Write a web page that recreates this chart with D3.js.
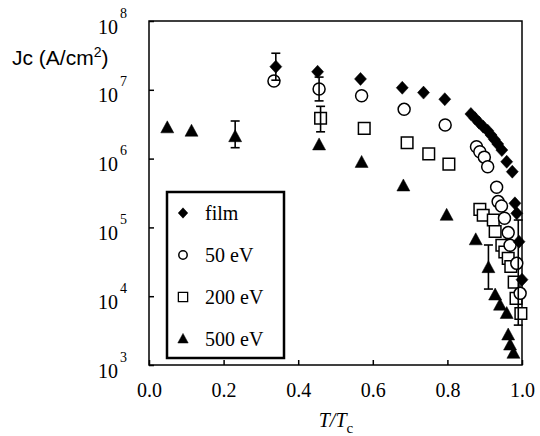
<!DOCTYPE html>
<html>
<head>
<meta charset="utf-8">
<script src="https://cdn.jsdelivr.net/npm/d3@7"></script>
<style>
  body { margin: 0; background: #fff; }
  svg { display: block; }
</style>
</head>
<body>
<div id="chart"></div>
<script>
// Data: T/Tc and Jc (A/cm2)
var tFilm = [0.34, 0.452, 0.567, 0.679, 0.736, 0.793, 0.863, 0.874, 0.885, 0.896, 0.908,
  0.917, 0.926, 0.935, 0.946, 0.959, 0.974, 0.981, 0.986, 0.992, 1.0];
var jFilm = [2.17e7, 1.83e7, 1.44e7, 1.07e7, 9.1e6, 7.3e6, 4.45e6, 3.86e6, 3.33e6, 2.91e6, 2.55e6,
  2.2e6, 1.9e6, 1.63e6, 1.33e6, 9.0e5, 6.45e5, 2.24e5, 1.6e5, 6.2e4, 1.74e4];

var t50 = [0.335, 0.456, 0.570, 0.684, 0.794, 0.878, 0.887, 0.899, 0.908, 0.932, 0.936,
  0.945, 0.953, 0.963, 0.968, 0.986, 0.995];
var j50 = [1.34e7, 1.03e7, 8.2e6, 5.2e6, 3.08e6, 1.49e6, 1.26e6, 1.05e6, 7.6e5, 3.83e5, 2.37e5,
  2.05e5, 1.36e5, 8.4e4, 5.5e4, 3.0e4, 1.1e4];

var t200 = [0.46, 0.577, 0.692, 0.75, 0.804, 0.887, 0.896, 0.923, 0.928, 0.946, 0.954,
  0.963, 0.97, 0.979, 0.984, 0.997];
var j200 = [3.86e6, 2.75e6, 1.7e6, 1.17e6, 8.3e5, 1.83e5, 1.5e5, 1.28e5, 8.7e4, 5.5e4, 4.4e4,
  3.55e4, 2.7e4, 1.6e4, 9.3e3, 5.6e3];

var t500 = [0.049, 0.114, 0.231, 0.456, 0.570, 0.682, 0.798, 0.876, 0.91, 0.928, 0.941,
  0.959, 0.963, 0.968, 0.977];
var j500 = [2.8e6, 2.5e6, 2.08e6, 1.58e6, 8.8e5, 4.0e5, 1.5e5, 6.6e4, 2.6e4, 1.04e4, 7.4e3,
  5.6e3, 2.73e3, 1.95e3, 1.48e3];

// Error bars
var errT = [0.34, 0.456, 0.46, 0.231, 0.91, 0.99];
var errLow = [1.38e7, 6.9e6, 2.45e6, 1.44e6, 1.27e4, 3.8e3];
var errHigh = [3.4e7, 1.53e7, 5.75e6, 3.52e6, 5.55e4, 1.28e5];

var xTicks = [0, 0.2, 0.4, 0.6, 0.8, 1.0];
var yTicks = [1e3, 1e4, 1e5, 1e6, 1e7, 1e8];
var seriesNames = ["film", "50 eV", "200 eV", "500 eV"];

// SVG area
var svgWidth = 540;
var svgHeight = 436;
var margin = { top: 21, right: 18, bottom: 71, left: 149 };
var chartWidth = svgWidth - margin.left - margin.right;
var chartHeight = svgHeight - margin.top - margin.bottom;

var serif = "'Liberation Serif', 'Times New Roman', serif";

var svg = d3.select("#chart")
  .append("svg")
  .attr("width", svgWidth)
  .attr("height", svgHeight);

var chartGroup = svg.append("g")
  .attr("transform", `translate(${margin.left}, ${margin.top})`);

var xScale = d3.scaleLinear().domain([0, 1]).range([0, chartWidth]);
var yScale = d3.scaleLog().domain([1e3, 1e8]).range([chartHeight, 0]);

// Axes, ticks pointing inward
var bottomAxis = d3.axisBottom(xScale)
  .tickValues(xTicks)
  .tickSizeInner(-5)
  .tickSizeOuter(0)
  .tickPadding(18)
  .tickFormat(d3.format(".1f"));

var leftAxis = d3.axisLeft(yScale)
  .tickValues(yTicks)
  .tickSizeInner(-5)
  .tickSizeOuter(0)
  .tickFormat("");

var xAxisG = chartGroup.append("g")
  .attr("transform", `translate(0, ${chartHeight})`)
  .call(bottomAxis);
xAxisG.selectAll("text")
  .attr("font-family", serif)
  .attr("font-size", 20)
  .attr("fill", "#000");

var yAxisG = chartGroup.append("g").call(leftAxis);
yAxisG.selectAll(".tick text").remove();

// 10^n labels, one text per tick with a raised exponent
var yLab = yAxisG.selectAll(".tick")
  .append("text")
  .attr("font-family", serif)
  .attr("fill", "#000")
  .attr("x", -51)
  .attr("y", 12)
  .attr("text-anchor", "start")
  .attr("font-size", 20);
yLab.append("tspan").text("10");
yLab.append("tspan")
  .attr("dx", 2)
  .attr("dy", -16)
  .attr("font-size", 14)
  .text(d => Math.round(Math.log10(d)));

chartGroup.selectAll(".domain").remove();
chartGroup.selectAll(".tick line").attr("stroke", "#000").attr("stroke-width", 1.5);

// Frame
chartGroup.append("rect")
  .attr("width", chartWidth)
  .attr("height", chartHeight)
  .attr("fill", "none")
  .attr("stroke", "#000")
  .attr("stroke-width", 1.5);

// Marker shapes
function markerPath(kind, s) {
  if (kind === 0) return `M0,${-6.5 * s}L${6 * s},0L0,${6.5 * s}L${-6 * s},0Z`;
  if (kind === 2) return `M${-5.8 * s},${-5.8 * s}H${5.8 * s}V${5.8 * s}H${-5.8 * s}Z`;
  if (kind === 3) return `M0,${-7 * s}L${6.5 * s},${5 * s}L${-6.5 * s},${5 * s}Z`;
  return null;
}

function drawSeries(ts, js, kind) {
  var pts = ts.map((t, i) => ({ t: t, j: js[i] }));
  var g = chartGroup.append("g");
  if (kind === 1) {
    g.selectAll("circle")
      .data(pts)
      .enter()
      .append("circle")
      .attr("cx", d => xScale(d.t))
      .attr("cy", d => yScale(d.j))
      .attr("r", 6)
      .attr("fill", "#fff")
      .attr("stroke", "#000")
      .attr("stroke-width", 1.5);
  } else {
    g.selectAll("path")
      .data(pts)
      .enter()
      .append("path")
      .attr("transform", d => `translate(${xScale(d.t)}, ${yScale(d.j)})`)
      .attr("d", markerPath(kind, 1))
      .attr("fill", kind === 2 ? "#fff" : "#000")
      .attr("stroke", "#000")
      .attr("stroke-width", kind === 2 ? 1.5 : 0.5);
  }
}

drawSeries(t500, j500, 3);
drawSeries(t200, j200, 2);
drawSeries(t50, j50, 1);
drawSeries(tFilm, jFilm, 0);

// Error bars
var errData = errT.map((t, i) => ({ t: t, lo: errLow[i], hi: errHigh[i] }));
var errG = chartGroup.append("g")
  .attr("stroke", "#000")
  .attr("stroke-width", 1.6);
errG.selectAll(".ev")
  .data(errData)
  .enter()
  .append("line")
  .attr("x1", d => xScale(d.t))
  .attr("x2", d => xScale(d.t))
  .attr("y1", d => yScale(d.lo))
  .attr("y2", d => yScale(d.hi));
["lo", "hi"].forEach(function(k) {
  errG.selectAll(".cap-" + k)
    .data(errData)
    .enter()
    .append("line")
    .attr("x1", d => xScale(d.t) - 4.5)
    .attr("x2", d => xScale(d.t) + 4.5)
    .attr("y1", d => yScale(d[k]))
    .attr("y2", d => yScale(d[k]));
});

// Legend
var legend = svg.append("g").attr("transform", "translate(167, 192)");
legend.append("rect")
  .attr("width", 117)
  .attr("height", 166)
  .attr("fill", "#fff")
  .attr("stroke", "#000")
  .attr("stroke-width", 2.5);

var rows = legend.selectAll(".row")
  .data(seriesNames)
  .enter()
  .append("g")
  .attr("transform", (d, i) => `translate(16, ${21 + i * 42})`);

rows.each(function(d, i) {
  var row = d3.select(this);
  if (i === 1) {
    row.append("circle")
      .attr("r", 4.2)
      .attr("fill", "#fff")
      .attr("stroke", "#000")
      .attr("stroke-width", 1.5);
  } else {
    row.append("path")
      .attr("d", markerPath(i, 0.8))
      .attr("fill", i === 2 ? "#fff" : "#000")
      .attr("stroke", "#000")
      .attr("stroke-width", i === 2 ? 1.3 : 0.5);
  }
});

rows.append("text")
  .attr("x", 22)
  .attr("y", 7)
  .attr("font-family", serif)
  .attr("font-size", 20)
  .attr("fill", "#000")
  .text(d => d);

// Axis titles
var yTitle = svg.append("text")
  .attr("x", 12)
  .attr("y", 65)
  .attr("font-family", "'Liberation Sans', Arial, sans-serif")
  .attr("font-size", 21)
  .attr("fill", "#000");
yTitle.append("tspan").text("Jc (A/cm");
yTitle.append("tspan").attr("dy", -8).attr("font-size", 14).text("2");
yTitle.append("tspan").attr("dy", 8).text(")");

var xTitle = svg.append("text")
  .attr("x", 336)
  .attr("y", 427)
  .attr("text-anchor", "middle")
  .attr("font-family", serif)
  .attr("font-size", 20)
  .attr("fill", "#000");
xTitle.append("tspan").attr("font-style", "italic").text("T/T");
xTitle.append("tspan").attr("dy", 6).attr("font-size", 15).text("c");
</script>
</body>
</html>
